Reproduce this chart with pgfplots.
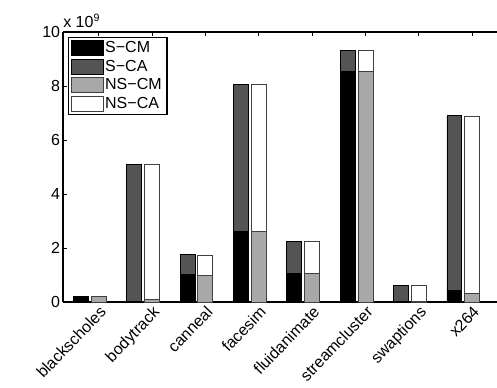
\documentclass[border=0pt]{standalone}
\usepackage{pgfplots}
\pgfplotsset{compat=1.18}
\usepackage{pgfplotstable}
\usepackage{fontspec}
\setmainfont{Liberation Sans}
\definecolor{scaclr}{gray}{0.33}
\definecolor{nscmclr}{gray}{0.66}
\pgfplotsset{my legend/.style={legend image code/.code={\draw[##1] (0pt,-5.5pt) rectangle (24pt,5.5pt);}}}
\pgfplotstableread{
x scm sca nscm nsca
1 0.21 0.01 0 0
2 0 0 0.20 0.01
3 0 0 0 0
4 0.02 5.08 0 0
5 0 0 0.10 5.00
6 0 0 0 0
7 1.01 0.76 0 0
8 0 0 0.97 0.76
9 0 0 0 0
10 2.60 5.46 0 0
11 0 0 2.60 5.47
12 0 0 0 0
13 1.07 1.18 0 0
14 0 0 1.07 1.18
15 0 0 0 0
16 8.54 0.77 0 0
17 0 0 8.54 0.77
18 0 0 0 0
19 0.02 0.60 0 0
20 0 0 0.01 0.61
21 0 0 0 0
22 0.43 6.47 0 0
23 0 0 0.31 6.57
24 0 0 0 0
}\datatable
\begin{document}
\begin{tikzpicture}[font=\fontsize{12}{14}\selectfont]
\useasboundingbox (-47.25pt,-63.75pt) rectangle (325.5pt,226.5pt);
\begin{axis}[at={(0,0)}, anchor=south west, scale only axis,
  width=325.5pt, height=202.5pt,
  xmin=0, xmax=24.4, ymin=0, ymax=10,
  axis x line*=box, axis y line*=left,
  ybar stacked, bar width=0.84,
  xtick={2,5,8,11,14,17,20,23},
  xticklabels={blackscholes,bodytrack,canneal,facesim,fluidanimate,streamcluster,swaptions,x264},
  xtick pos=right, xticklabel pos=left,
  ytick={0,2,4,6,8,10}, ytick pos=left,
  tick align=inside, major tick length=3pt,
  tick style={black, line width=0.6pt},
  tick label style={font=\fontsize{12}{14}\selectfont},
  x tick label style={rotate=46, anchor=north east, inner sep=0pt},
  xticklabel shift=2pt,
  yticklabel style={inner sep=2pt},
  axis line style={line width=0.8pt, black},
  /pgf/number format/assume math mode=true,
  legend cell align=left,
  legend style={at={(0.0115,0.9815)}, anchor=north west, draw=black, line width=0.8pt,
    inner xsep=2pt, inner ysep=1pt, row sep=0pt, font=\fontsize{12}{14}\selectfont,
    /tikz/every odd column/.append style={column sep=-1pt}},
]
\addplot[fill=black, draw=black, line width=0.5pt, my legend] table[x=x, y=scm] {\datatable};
\addplot[fill=scaclr, draw=black, line width=0.5pt, my legend] table[x=x, y=sca] {\datatable};
\addplot[fill=nscmclr, draw=black!75, line width=0.5pt, my legend] table[x=x, y=nscm] {\datatable};
\addplot[fill=white, draw=black!75, line width=0.5pt, my legend] table[x=x, y=nsca] {\datatable};
\legend{S−CM, S−CA, NS−CM, NS−CA}
\end{axis}
\node[anchor=south west, inner sep=0pt] at ([yshift=3pt]current axis.north west) {x 10\textsuperscript{9}};
\end{tikzpicture}
\end{document}
